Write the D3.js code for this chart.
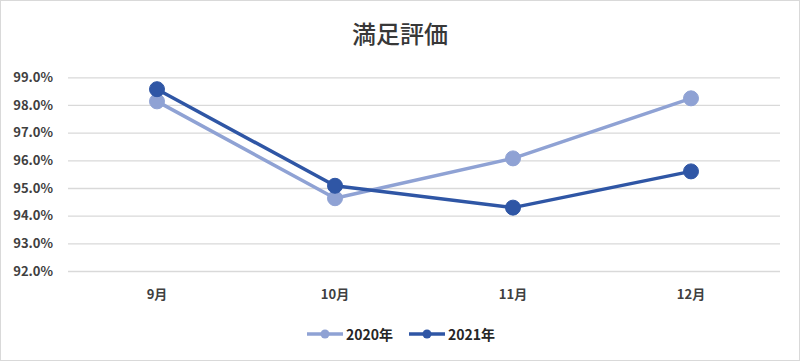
<!DOCTYPE html>
<html><head><meta charset="utf-8">
<script src="https://cdn.jsdelivr.net/npm/d3@7"></script>
<style>body{margin:0;background:#fff}svg{display:block}</style>
</head><body>
<svg id="c" width="800" height="361"></svg>
<script>
const categories = ["9月","10月","11月","12月"];
const seriesNames = ["2020年","2021年"];
const values2020 = [98.13, 94.63, 96.07, 98.24];
const values2021 = [98.57, 95.08, 94.29, 95.60];
const yTicks = [92,93,94,95,96,97,98,99];
const colors = ["#8FA2D4","#2F56A5"];

const svg = d3.select("#c");
const W=800,H=361;
svg.append("rect").attr("x",0.5).attr("y",0.5).attr("width",W-1).attr("height",H-1).attr("fill","#fff").attr("stroke","#d9d9d9");
const font = "'Noto Sans CJK JP','Noto Sans',sans-serif";
const x = d3.scaleBand().domain(categories).range([68,780]);
const y = d3.scaleLinear().domain([92,99]).range([271,77.3]);

svg.append("text").attr("x",400).attr("y",43).attr("text-anchor","middle")
  .attr("font-family",font).attr("font-size",24).attr("font-weight",500).attr("fill","#383838").text("満足評価");

const ya = svg.append("g").attr("transform","translate(68,0)")
  .call(d3.axisLeft(y).tickValues(yTicks).tickSize(-712).tickFormat(d=>d.toFixed(1)+"%").tickPadding(15));
ya.select(".domain").remove();
ya.selectAll(".tick line").attr("stroke","#d9d9d9").attr("stroke-width",1.3);
ya.selectAll(".tick text").attr("font-family",font).attr("font-size",13).attr("font-weight","bold").attr("fill","#404040");

const xa = svg.append("g").attr("transform","translate(0,271)")
  .call(d3.axisBottom(x).tickSize(0).tickPadding(19));
xa.select(".domain").remove();
xa.selectAll(".tick text").attr("font-family",font).attr("font-size",13).attr("font-weight","bold").attr("fill","#404040");

const data = [values2020, values2021];
const line = d3.line().x((d,i)=>x(categories[i])+x.bandwidth()/2).y(d=>y(d));
data.forEach((vals,si)=>{
  svg.append("path").attr("d",line(vals)).attr("fill","none").attr("stroke",colors[si]).attr("stroke-width",3.5).attr("stroke-linejoin","round");
  svg.selectAll(null).data(vals).enter().append("circle")
    .attr("cx",(d,i)=>x(categories[i])+x.bandwidth()/2).attr("cy",d=>y(d)).attr("r",7.5)
    .attr("fill",colors[si]).attr("stroke",colors[si]).attr("stroke-width",1);
});

// legend
const lg = svg.append("g");
const lx = [307, 409];
seriesNames.forEach((n,i)=>{
  const g = lg.append("g").attr("transform",`translate(${lx[i]},334)`);
  g.append("line").attr("x1",0).attr("x2",36).attr("y1",0).attr("y2",0).attr("stroke",colors[i]).attr("stroke-width",3.5);
  g.append("circle").attr("cx",18).attr("cy",0).attr("r",4.5).attr("fill",colors[i]);
  g.append("text").attr("x",39).attr("y",5.5).attr("font-family",font).attr("font-size",14).attr("font-weight","bold").attr("fill","#262626").text(n);
});
</script>
</body></html>
